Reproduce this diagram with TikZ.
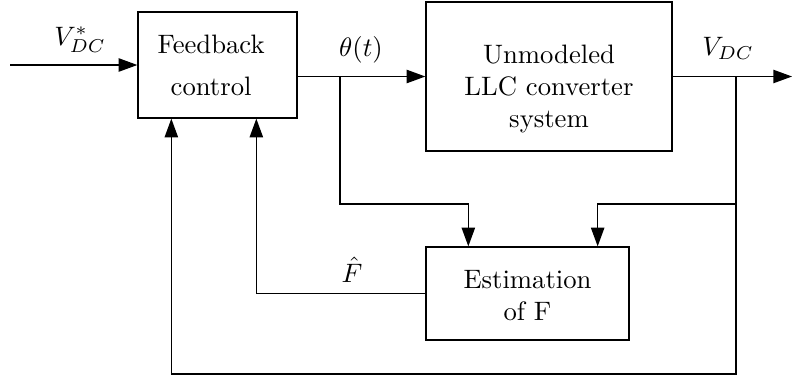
\documentclass[tikz,border=0pt]{standalone}
\usetikzlibrary{arrows.meta,calc}
\newcommand\offtext[3]{\raisebox{#2}[\height][\depth]{\makebox[0pt][l]{\hspace*{#1}#3}\phantom{#3}}}
\begin{document}
\begin{tikzpicture}[x=0.375pt,y=-0.375pt,
  box/.style={draw,line width=0.5pt,inner sep=0pt},
  conn/.style={line width=0.5pt},
  arr/.style={conn,-{Triangle[length=7pt,width=5pt]}},
  lbl/.style={inner sep=0pt}]
\useasboundingbox (0,0) rectangle (792,380);
% blocks
\node[box,minimum width=159*0.375pt,minimum height=106*0.375pt] (fb) at (217.5,65)
  {\offtext{-2.4pt}{-1.1pt}{\begin{tabular}{@{}c@{}}Feedback\\[3.75pt]control\end{tabular}}};
\node[box,minimum width=246*0.375pt,minimum height=149*0.375pt] (sys) at (549,76.5)
  {\offtext{0pt}{-4.7pt}{\begin{tabular}{@{}c@{}}Unmodeled\\LLC converter\\system\end{tabular}}};
\node[box,minimum width=203*0.375pt,minimum height=93*0.375pt] (est) at (527.5,293.5)
  {\offtext{0pt}{-1.7pt}{\begin{tabular}{@{}c@{}}Estimation\\of F\end{tabular}}};
% coordinates
\coordinate (in) at (10,65);
\coordinate (out) at (792,76.5);
\coordinate (b1) at (340,76.5);
\coordinate (m1) at (340,204);
\coordinate (b2) at (736,76.5);
\coordinate (m2) at (736,204);
\coordinate (d1) at (736,374);
\coordinate (e1) at ($(est.north west)+(43,0)$);
\coordinate (e2) at ($(est.north east)+(-32,0)$);
\coordinate (f1) at ($(fb.south west)+(34,0)$);
\coordinate (f2) at ($(fb.south west)+(119,0)$);
% connectors
\draw[arr] (in) -- (fb.west);
\draw[arr] (fb.east |- sys.west) -- (sys.west);
\draw[arr] (sys.east) -- (out);
\draw[arr] (b1) -- (m1) -| (e1);
\draw[arr] (m2) -| (e2);
\draw[arr] (b2) -- (d1) -| (f1);
\draw[arr] (est.west) -| (f2);
% labels
\node[lbl] (lvref) at (80,40) {$V^*_{DC}$};
\node[lbl] (ltheta) at (361,50) {$\theta(t)$};
\node[lbl] (lvdc) at (728,48) {$V_{DC}$};
\node[lbl] (lfhat) at (352,270) {$\hat{F}$};
\end{tikzpicture}
\end{document}
